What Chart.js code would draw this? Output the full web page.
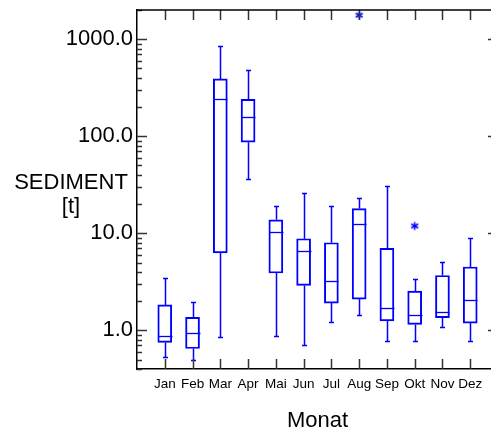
<!DOCTYPE html>
<html><head><meta charset="utf-8">
<script src="https://cdn.jsdelivr.net/npm/chart.js@4.4.1/dist/chart.umd.min.js"></script>
<style>html,body{margin:0;padding:0;overflow:hidden;background:#fff}
#wrap{width:510px;height:432px;position:relative}</style>
</head><body><div id="wrap"><canvas id="c" width="510" height="432"></canvas></div>
<script>
const months = ['Jan','Feb','Mar','Apr','Mai','Jun','Jul','Aug','Sep','Okt','Nov','Dez'];
const whiskerLow  = [0.53, 0.50, 0.85, 36,  0.87, 0.70, 1.22, 1.43, 0.78, 0.78, 1.08, 0.78];
const quartile1   = [0.75, 0.65, 6.3,  87,  3.9,  2.9,  1.91, 2.1,  1.25, 1.15, 1.35, 1.19];
const median      = [0.88, 0.95, 245,  159, 10.4, 6.5,  3.2,  12.5, 1.71, 1.44, 1.53, 2.07];
const quartile3   = [1.83, 1.36, 390,  240, 13.8, 8.8,  8.0,  18.0, 7.0,  2.54, 3.68, 4.5];
const whiskerHigh = [3.5,  1.94, 850,  485, 19.2, 26,   19.2, 23,   31,   3.4,  5.06, 8.9];
const outlierMonth = [8, 10];
const outlierValue = [1770, 11.9];
const yMajorTicks = [1, 10, 100, 1000];

const BLUE = '#0000ff';
const FONT = '"Liberation Sans", Arial, sans-serif';

const boxData = months.map((m, i) => ({x: i + 1, y: [quartile1[i], quartile3[i]]}));
const outData = outlierMonth.map((m, i) => ({x: m, y: outlierValue[i]}));

const isMajor = v => Math.abs(Math.log10(v) - Math.round(Math.log10(v))) < 1e-9;

// six-armed asterisk marker
const star = document.createElement('canvas');
star.width = 11; star.height = 11;
(function () {
  const g = star.getContext('2d');
  g.strokeStyle = BLUE; g.lineWidth = 1.5;
  g.beginPath();
  g.moveTo(5.5, 1.5); g.lineTo(5.5, 9.5);
  g.moveTo(2, 3.5); g.lineTo(9, 7.5);
  g.moveTo(2, 7.5); g.lineTo(9, 3.5);
  g.stroke();
})();

const boxPlugin = {
  id: 'boxparts',
  afterDatasetsDraw(chart) {
    const {ctx, scales: {x, y}} = chart;
    ctx.save();
    ctx.strokeStyle = BLUE;
    months.forEach((m, i) => {
      const cx = Math.round(x.getPixelForValue(i + 1)) + 0.5;
      const yl = Math.round(y.getPixelForValue(whiskerLow[i])) + 0.5;
      const y1 = y.getPixelForValue(quartile1[i]);
      const ym = Math.round(y.getPixelForValue(median[i])) + 0.5;
      const y3 = y.getPixelForValue(quartile3[i]);
      const yh = Math.round(y.getPixelForValue(whiskerHigh[i])) + 0.5;
      ctx.lineWidth = 1.5;
      ctx.beginPath();
      ctx.moveTo(cx, y3); ctx.lineTo(cx, yh);
      ctx.moveTo(cx, y1); ctx.lineTo(cx, yl);
      ctx.moveTo(cx - 2.5, yh); ctx.lineTo(cx + 2.5, yh);
      ctx.moveTo(cx - 2.5, yl); ctx.lineTo(cx + 2.5, yl);
      ctx.stroke();
      ctx.lineWidth = 1.3;
      ctx.beginPath();
      ctx.moveTo(cx - 7, ym); ctx.lineTo(cx + 7, ym);
      ctx.stroke();
    });
    ctx.restore();
  },
  afterDraw(chart) {
    const {ctx, chartArea: a, scales: {x, y}} = chart;
    ctx.save();
    ctx.strokeStyle = '#333';
    ctx.lineWidth = 1.5;
    ctx.beginPath();
    y.ticks.forEach(t => {
      const py = Math.round(y.getPixelForValue(t.value)) + 0.5;
      const L = isMajor(t.value) ? 10 : 5;
      ctx.moveTo(a.left, py); ctx.lineTo(a.left + L, py);
      ctx.moveTo(a.right, py); ctx.lineTo(a.right - L, py);
    });
    for (let i = 1; i <= months.length; i++) {
      const px = Math.round(x.getPixelForValue(i)) + 0.5;
      ctx.moveTo(px, a.bottom); ctx.lineTo(px, a.bottom - 10);
      ctx.moveTo(px, a.top); ctx.lineTo(px, a.top + 10);
    }
    ctx.stroke();
    ctx.strokeStyle = '#000';
    ctx.beginPath();
    ctx.moveTo(a.left, a.top); ctx.lineTo(a.right, a.top); ctx.lineTo(a.right, a.bottom);
    ctx.stroke();
    // y axis title (horizontal, two lines)
    ctx.fillStyle = '#000';
    ctx.font = '22px ' + FONT;
    ctx.textAlign = 'center';
    ctx.textBaseline = 'alphabetic';
    ctx.fillText('SEDIMENT', 71, 189);
    ctx.fillText('[t]', 71, 213);
    ctx.restore();
  }
};

new Chart(document.getElementById('c'), {
  type: 'bar',
  data: {
    datasets: [
      {type: 'bar', data: boxData, backgroundColor: 'rgba(0,0,0,0)', borderColor: BLUE,
       borderWidth: 1.3, borderSkipped: false, barThickness: 14, grouped: false},
      {type: 'scatter', data: outData, pointStyle: star, radius: 5, borderColor: BLUE,
       backgroundColor: BLUE, borderWidth: 1.3}
    ]
  },
  options: {
    responsive: false,
    devicePixelRatio: 1,
    animation: false,
    layout: {padding: {top: 10, right: 12, left: 0, bottom: 0}},
    plugins: {legend: {display: false}, tooltip: {enabled: false}},
    scales: {
      x: {
        type: 'linear', min: 0, max: 13, position: 'bottom', offset: false,
        grid: {display: false, drawTicks: false, offset: false},
        border: {display: true, color: '#000', width: 1.5},
        ticks: {stepSize: 1, autoSkip: false, maxRotation: 0, padding: 7, color: '#000',
                font: {family: FONT, size: 13.5},
                callback: v => months[v - 1] || ''},
        title: {display: true, text: 'Monat', color: '#000', font: {family: FONT, size: 22},
                padding: {top: 0, bottom: -2}},
        afterFit: s => { s.height = 63; s.paddingLeft = 0; s.paddingRight = 0; }
      },
      y: {
        type: 'logarithmic', min: 0.4, max: 2000, position: 'left',
        grid: {display: false, drawTicks: false},
        border: {display: true, color: '#000', width: 1.5},
        afterBuildTicks: s => {
          const t = [];
          [0.1, 1, 10, 100, 1000].forEach(d => {
            for (let k = 1; k <= 9; k++) {
              const v = Number((k * d).toPrecision(3));
              if (v >= 0.4 && v <= 2000) t.push({value: v});
            }
          });
          s.ticks = t;
        },
        ticks: {autoSkip: false, padding: 4, color: '#000', font: {family: FONT, size: 22},
                callback: v => yMajorTicks.includes(v) ? v.toFixed(1) : ''},
        afterFit: s => { s.width = 137; s.paddingTop = 0; s.paddingBottom = 0; }
      }
    }
  },
  plugins: [boxPlugin]
});
</script>
</body></html>
